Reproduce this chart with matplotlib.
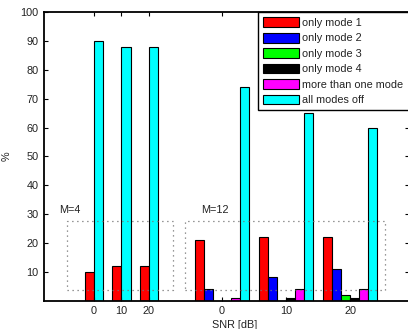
import matplotlib
matplotlib.use("Agg")
import matplotlib.pyplot as plt
import numpy as np

plt.rcParams['font.family'] = ['Liberation Sans', 'DejaVu Sans']

snr_labels = ['0', '10', '20']
series_names = ['only mode 1', 'only mode 2', 'only mode 3', 'only mode 4',
                'more than one mode', 'all modes off']
colors = ['#ff0000', '#0000ff', '#00ff00', '#000000', '#ff00ff', '#00ffff']

# M=4 group: only mode 1 and all modes off
m4_mode1 = [10, 12, 12]
m4_off = [90, 88, 88]

# M=12 group: six categories per SNR
m12_mode1 = [21, 22, 22]
m12_mode2 = [4, 8, 11]
m12_mode3 = [0, 0, 2]
m12_mode4 = [0, 1, 1]
m12_multi = [1, 4, 4]
m12_off = [74, 65, 60]

FS = 7.8

fig = plt.figure(figsize=(4.08, 3.29), dpi=100)
ax = fig.add_axes([44/408, 1-300.5/329, 365/408, 288.2/329])

w = 1.0
m4_centers = np.array([0, 3, 6])
m12_centers = np.array([14, 21, 28])
ekw = dict(edgecolor='black', linewidth=0.8, width=w)

ax.bar(m4_centers - 0.5, m4_mode1, color=colors[0], **ekw)
ax.bar(m4_centers + 0.5, m4_off, color=colors[5], **ekw)

m12_series = [m12_mode1, m12_mode2, m12_mode3, m12_mode4, m12_multi, m12_off]
handles = []
for i, (vals, c) in enumerate(zip(m12_series, colors)):
    off = -2.5 + i
    h = ax.bar(m12_centers + off, vals, color=c, **ekw)
    handles.append(h)

# dotted group boxes
for (x0, x1) in [(-2.95, 8.64), (10.0, 31.8)]:
    y0, y1 = 3.8, 27.5
    ax.plot([x0, x1, x1, x0, x0], [y0, y0, y1, y1, y0], linestyle=(0, (1, 3)),
            color='#777777', linewidth=0.9)

ax.text(-3.8, 31.4, 'M=4', fontsize=FS, va='center', ha='left', color='#222222')
ax.text(11.7, 31.4, 'M=12', fontsize=FS, va='center', ha='left', color='#222222')

ax.set_xlim(-5.47, 34.45)
ax.set_ylim(0, 100)
ax.set_xticks(np.concatenate([m4_centers, m12_centers]))
ax.set_xticklabels(snr_labels + snr_labels)
ax.set_yticks(np.arange(10, 101, 10))
ax.tick_params(direction='in', top=True, right=True, length=3, width=0.8,
               labelsize=FS, pad=4, colors='black', labelcolor='#222222')
for s in ax.spines.values():
    s.set_linewidth(1.3)

ax.set_xlabel('SNR [dB]', fontsize=FS, color='#222222')
ax.xaxis.set_label_coords(0.523, -0.066)
ax.xaxis.label.set_va('top')
ax.set_ylabel('%', fontsize=FS, color='#222222')
ax.yaxis.set_label_coords(-0.088, 0.5)

leg = fig.legend(handles, series_names, loc='upper left',
                 bbox_to_anchor=(258/408, 1-12.3/329), fontsize=FS,
                 frameon=True, fancybox=False, framealpha=1, edgecolor='black',
                 handlelength=3.3, handleheight=1.0, handletextpad=0.3,
                 labelspacing=0.45, borderpad=0.48, borderaxespad=0)
leg.get_frame().set_linewidth(1.0)
for t in leg.get_texts():
    t.set_color('#222222')

fig.savefig('out.png', dpi=100)
